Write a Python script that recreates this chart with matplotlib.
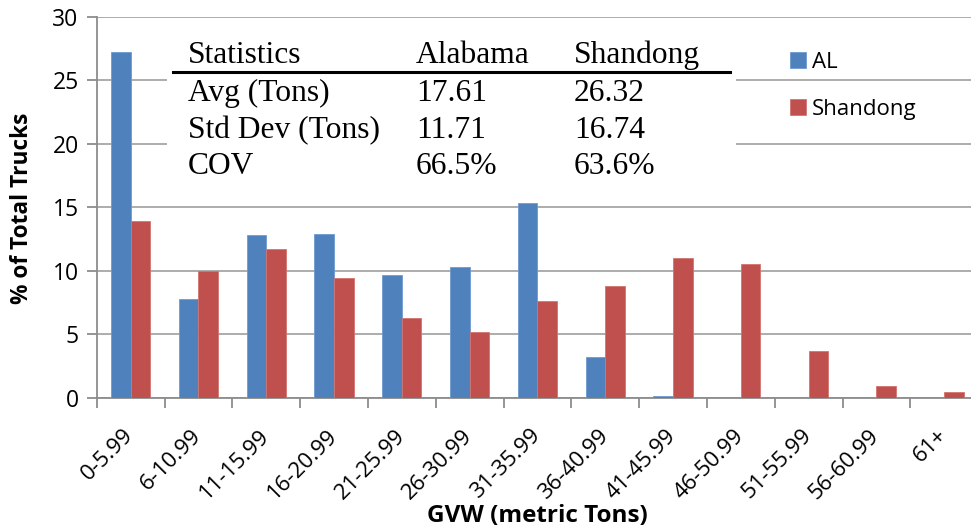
import numpy as np
import matplotlib.pyplot as plt
from matplotlib.patches import Rectangle

categories = ["0-5.99", "6-10.99", "11-15.99", "16-20.99", "21-25.99", "26-30.99",
              "31-35.99", "36-40.99", "41-45.99", "46-50.99", "51-55.99", "56-60.99", "61+"]
al = [27.2, 7.8, 12.8, 12.9, 9.7, 10.3, 15.3, 3.2, 0.15, 0.0, 0.0, 0.0, 0.0]
shandong = [13.9, 10.0, 11.7, 9.4, 6.3, 5.2, 7.6, 8.8, 11.0, 10.5, 3.65, 0.95, 0.45]

stat_header = ["Statistics", "Alabama", "Shandong"]
stat_rows = [["Avg (Tons)", "17.61", "26.32"],
             ["Std Dev (Tons)", "11.71", "16.74"],
             ["COV", "66.5%", "63.6%"]]

W, H = 971, 530
fig = plt.figure(figsize=(W / 100, H / 100), dpi=100)
# plot area runs a little past the right edge of the figure
ax = fig.add_axes([96.7 / W, 1 - 397.7 / H, 881.4 / W, 381.0 / H])

sans = "Open Sans"
serif = "Liberation Serif"
grey = "#8c8c8c"

x = np.arange(len(categories))
bw = 0.29
ax.bar(x - bw / 2, al, bw, color="#4F81BD", edgecolor="#6f9ad0", linewidth=0.6, label="AL", zorder=3)
ax.bar(x + bw / 2, shandong, bw, color="#C0504D", edgecolor="#d27470", linewidth=0.6, label="Shandong", zorder=3)

ax.set_xlim(-0.5, len(categories) - 0.5)
ax.set_ylim(0, 30)
ax.set_yticks(range(0, 31, 5))
ax.yaxis.grid(True, color="#a6a6a6", linewidth=1.3, zorder=0)
ax.set_axisbelow(True)

for s in ["top", "right"]:
    ax.spines[s].set_visible(False)
for s in ["left", "bottom"]:
    ax.spines[s].set_color(grey)
    ax.spines[s].set_linewidth(1.3)

ax.tick_params(axis="y", direction="out", length=7, width=1.3, color=grey,
               labelsize=16.5, pad=6)
for lab in ax.get_yticklabels():
    lab.set_fontfamily(sans)

ax.set_xticks(x)
ax.set_xticks(np.arange(-0.5, len(categories), 1), minor=True)
ax.tick_params(axis="x", which="major", length=0, pad=25)
ax.tick_params(axis="x", which="minor", direction="out", length=7, width=1.3, color=grey)
ax.set_xticklabels(categories, rotation=45, ha="right", va="center",
                   rotation_mode="anchor", fontsize=16, fontfamily=sans)

fig.text(22 / W, 1 - 208 / H, "% of Total Trucks", rotation=90, ha="center", va="center",
         fontsize=16.3, fontweight="bold", fontfamily=sans)
fig.text(537 / W, 1 - 516 / H, "GVW (metric Tons)", ha="center", va="center",
         fontsize=17.5, fontweight="bold", fontfamily=sans)

# statistics box drawn over the grid
fig.patches.append(Rectangle((167 / W, 1 - 200 / H), (736 - 167) / W, 178 / H,
                             transform=fig.transFigure, facecolor="white",
                             edgecolor="none", zorder=4))
col_x = [188, 416, 574]
row_y = [63, 101, 138, 174]
for cx, txt in zip(col_x, stat_header):
    fig.text(cx / W, 1 - row_y[0] / H, txt, ha="left", va="baseline",
             fontsize=22.7, fontfamily=serif, zorder=5)
for ry, row in zip(row_y[1:], stat_rows):
    for cx, txt in zip(col_x, row):
        fig.text(cx / W, 1 - ry / H, txt, ha="left", va="baseline",
                 fontsize=22.7, fontfamily=serif, zorder=5)
fig.add_artist(plt.Line2D([173 / W, 730 / W], [1 - 71.7 / H, 1 - 71.7 / H],
                          color="black", linewidth=2.2, zorder=5))

leg = ax.legend(loc="upper left", bbox_to_anchor=(770 / W, 1 - 32 / H),
                bbox_transform=fig.transFigure, frameon=False,
                prop={"family": sans, "size": 16}, handlelength=0.7,
                handleheight=0.7, handletextpad=0.3, labelspacing=1.15)

fig.savefig("out.png", dpi=100)
